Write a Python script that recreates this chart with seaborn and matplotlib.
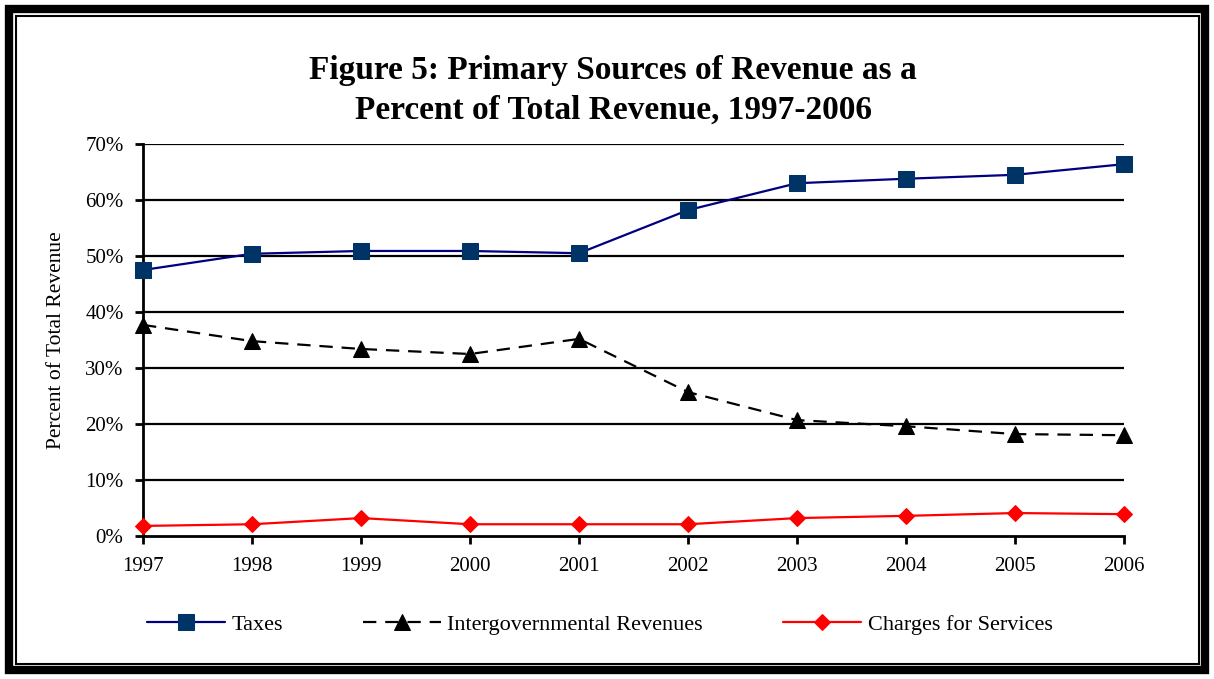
import matplotlib
matplotlib.use("Agg")
import matplotlib.pyplot as plt
import seaborn as sns
import pandas as pd
from matplotlib.patches import Rectangle
from matplotlib.ticker import PercentFormatter

years = [1997, 1998, 1999, 2000, 2001, 2002, 2003, 2004, 2005, 2006]
taxes = [47.5, 50.4, 50.9, 50.9, 50.5, 58.2, 63.0, 63.8, 64.5, 66.4]
intergov = [37.7, 34.8, 33.4, 32.5, 35.2, 25.7, 20.7, 19.6, 18.2, 18.0]
charges = [1.8, 2.1, 3.2, 2.1, 2.1, 2.1, 3.2, 3.6, 4.1, 3.9]
series_names = ["Taxes", "Intergovernmental Revenues", "Charges for Services"]
yticks = [0, 10, 20, 30, 40, 50, 60, 70]

sns.set_theme(style="white")
plt.rcParams['font.family'] = ['Liberation Serif', 'DejaVu Serif']
plt.rcParams['text.color'] = 'black'
plt.rcParams['axes.labelcolor'] = 'black'
plt.rcParams['xtick.color'] = 'black'
plt.rcParams['ytick.color'] = 'black'

df = pd.DataFrame({"Year": years, series_names[0]: taxes,
                   series_names[1]: intergov, series_names[2]: charges})
long = df.melt(id_vars="Year", var_name="Series", value_name="Value")

fig = plt.figure(figsize=(12.14, 6.79), dpi=100)
ax = fig.add_axes([0.1178, 0.2106, 0.9259 - 0.1178, 0.7879 - 0.2106])

styles = {
    series_names[0]: dict(color="#000080", marker="s", mfc="#003366", mec="#003366", ms=11, ls="-"),
    series_names[1]: dict(color="black", marker="^", mfc="black", mec="black", ms=11, ls=(0, (6, 4))),
    series_names[2]: dict(color="#FF0000", marker="D", mfc="#FF0000", mec="#FF0000", ms=8.5, ls="-"),
}

for name in series_names:
    sub = long[long["Series"] == name]
    st = styles[name]
    sns.lineplot(data=sub, x="Year", y="Value", ax=ax, color=st["color"],
                 linestyle=st["ls"], linewidth=1.6, marker=st["marker"],
                 markerfacecolor=st["mfc"], markeredgecolor=st["mec"],
                 markersize=st["ms"], label=name, clip_on=False, zorder=5,
                 legend=False)

ax.set_xlim(1997, 2006)
ax.set_ylim(0, 70)
ax.set_xticks(years)
ax.set_xticklabels([str(y) for y in years])
ax.set_yticks(yticks)
ax.yaxis.set_major_formatter(PercentFormatter(decimals=0))
ax.tick_params(axis='y', labelsize=15, length=6, width=2, color="black", labelcolor="black",
               direction="out", left=True, pad=8)
ax.tick_params(axis='x', labelsize=15, length=6, width=2, color="black", labelcolor="black",
               direction="out", bottom=True, pad=9)
for t in yticks[1:]:
    ax.axhline(t, color="black", linewidth=1.6, zorder=1)
ax.set_xlabel("")
ax.set_ylabel("Percent of Total Revenue", fontsize=15.5, labelpad=14, color="black")
for s in ["top", "right"]:
    ax.spines[s].set_visible(False)
for s in ["left", "bottom"]:
    ax.spines[s].set_color("black")
    ax.spines[s].set_linewidth(2)

handles, labels = ax.get_legend_handles_labels()
leg = fig.legend(handles, labels, loc="center", bbox_to_anchor=(0.494, 1 - 625/679), ncol=3,
                 frameon=False, fontsize=16, handlelength=3.5, handletextpad=0.3,
                 columnspacing=3.6)
for t in leg.get_texts():
    t.set_color("black")

fig.text(0.505, 1 - 71/679, "Figure 5: Primary Sources of Revenue as a", ha="center",
         va="center", fontsize=24, fontweight="bold", color="black")
fig.text(0.505, 1 - 110/679, "Percent of Total Revenue, 1997-2006", ha="center",
         va="center", fontsize=24, fontweight="bold", color="black")

# double border
W, H = 1214, 679
fig.patches.append(Rectangle((9/W, 9/H), 1 - 18/W, 1 - 18/H, transform=fig.transFigure,
                             fill=False, edgecolor="black", linewidth=6))
fig.patches.append(Rectangle((15.5/W, 15.5/H), 1 - 31/W, 1 - 31/H, transform=fig.transFigure,
                             fill=False, edgecolor="black", linewidth=1.5))

fig.savefig("out.png", dpi=100)
